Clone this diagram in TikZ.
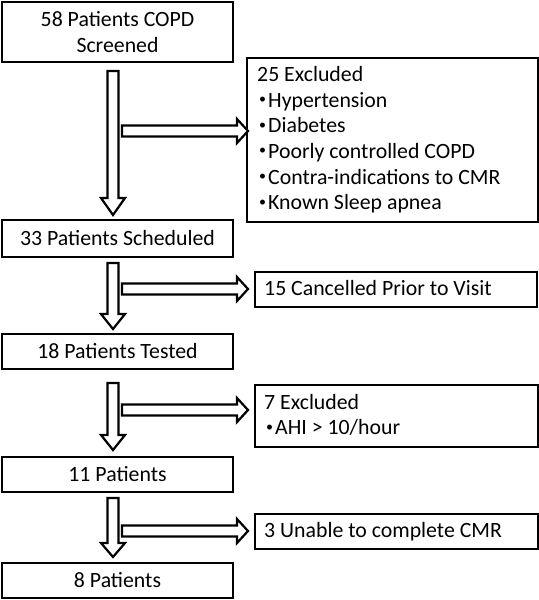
\documentclass[tikz,border=0pt]{standalone}
\usepackage{fontspec}
\setmainfont{Carlito}
\newcommand\mainfs{\fontsize{21.8bp}{25.5bp}\selectfont}
\newcommand\bul{\makebox[11bp][c]{\raisebox{3.5bp}{\fontsize{14bp}{14bp}\selectfont •}}}
\newcommand\blockdown[4]{%
  \draw[blk] ({#1-5.5},#2) -- ({#1+5.5},#2) -- ({#1+5.5},#3) -- ({#1+12},#3) -- (#1,#4) -- ({#1-12},#3) -- ({#1-5.5},#3) -- cycle;}
\newcommand\blockright[4]{%
  \draw[blk] (#1,{#4-5.5}) -- (#2,{#4-5.5}) -- (#2,{#4-12}) -- (#3,#4) -- (#2,{#4+12}) -- (#2,{#4+5.5}) -- (#1,{#4+5.5}) -- cycle;}
\tikzset{
  lbox/.style={draw, line width=2.3bp, minimum width=231bp, minimum height=35bp, inner sep=0pt, align=center, font=\mainfs},
  rbox/.style={draw, line width=2.3bp, inner sep=0pt},
  blk/.style={draw, line width=2.2bp, fill=white, line join=miter},
  txt/.style={anchor=base west, inner sep=0pt, font=\mainfs}
}
\begin{document}
\begin{tikzpicture}[x=1bp,y=-1bp]
\useasboundingbox (0,0) rectangle (539,600);
% left column boxes
\node[lbox, minimum height=60bp] (b1) at (117.5,32) {58 Patients COPD\\Screened};
\node[lbox, minimum height=37bp] (b2) at (117.5,238.5) {33 Patients Scheduled};
\node[lbox] (b3) at (117.5,351.5) {18 Patients Tested};
\node[lbox] (b4) at (117.5,474.5) {11 Patients};
\node[lbox] (b5) at (117.5,580.5) {8 Patients};
% right column boxes
\node[rbox, minimum width=291bp, minimum height=164bp] (e25) at (392.5,140) {};
\node[rbox, minimum width=282bp, minimum height=35bp] (c15) at (396,289.5) {};
\node[rbox, minimum width=283bp, minimum height=62bp] (e7) at (396.5,416) {};
\node[rbox, minimum width=283bp, minimum height=35bp] (u3) at (396.5,531.5) {};
% texts in right boxes
\node[txt] (t1) at (257,82) {25 Excluded};
\node[txt] (t2) at (257,107.5) {\bul Hypertension};
\node[txt] (t3) at (257,133) {\bul Diabetes};
\node[txt] (t4) at (257,158.5) {\bul Poorly controlled COPD};
\node[txt] (t5) at (257,184) {\bul Contra-indications to CMR};
\node[txt] (t6) at (257,209.5) {\bul Known Sleep apnea};
\node[txt] (t7) at (264,295) {15 Cancelled Prior to Visit};
\node[txt] (t8) at (264,409) {7 Excluded};
\node[txt] (t9) at (264,434.5) {\bul AHI > 10/hour};
\node[txt] (t10) at (264,537) {3 Unable to complete CMR};
% block arrows
\blockright{122}{237}{248}{131}
\blockright{122}{237}{248}{289}
\blockright{122}{237}{248}{410}
\blockright{122}{237}{248}{531}
\blockdown{113}{71}{198}{215}
\blockdown{113}{263}{314}{329}
\blockdown{113}{383}{435}{450}
\blockdown{113}{498}{543}{557}
\end{tikzpicture}
\end{document}
